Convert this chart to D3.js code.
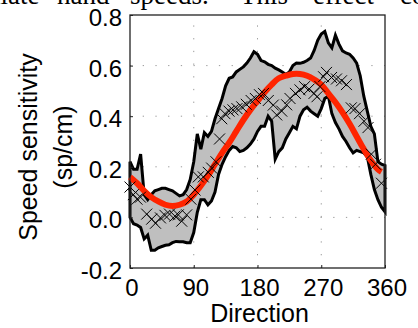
<!DOCTYPE html>
<html>
<head>
<meta charset="utf-8">
<script src="https://cdn.jsdelivr.net/npm/d3@7"></script>
<style>
	body { margin: 0; background: #fff; }
	svg { display: block; }
	text { font-family: "Liberation Sans", Arial, sans-serif; fill: #000; }
</style>
</head>
<body>
<svg width="418" height="328"></svg>
<script>
// band (upper / lower) sampled every 5 degrees
let band_deg = d3.range(0, 361, 5);
let band_upper = [0.22, 0.19, 0.19, 0.25, 0.09, 0.07, 0.09, 0.105, 0.11, 0.115, 0.115, 0.11, 0.105,
	0.095, 0.085, 0.09, 0.11, 0.15, 0.22, 0.33, 0.27, 0.335, 0.32, 0.34, 0.39, 0.43, 0.47, 0.52,
	0.55, 0.555, 0.575, 0.585, 0.595, 0.61, 0.63, 0.655, 0.645, 0.62, 0.615, 0.605, 0.6, 0.59,
	0.583, 0.575, 0.565, 0.575, 0.6, 0.61, 0.609, 0.613, 0.62, 0.63, 0.66, 0.7, 0.725, 0.735,
	0.69, 0.67, 0.72, 0.685, 0.658, 0.65, 0.645, 0.63, 0.61, 0.56, 0.48, 0.42, 0.36, 0.33, 0.22,
	0.21, 0.205];
let band_lower = [0.0, -0.025, -0.03, -0.04, -0.085, -0.07, -0.13, -0.13, -0.12, -0.115, -0.11,
	-0.108, -0.1, -0.095, -0.096, -0.096, -0.1, -0.1, -0.06, 0.02, 0.07, 0.07, 0.05, 0.065, 0.1,
	0.17, 0.21, 0.24, 0.265, 0.28, 0.275, 0.26, 0.265, 0.275, 0.29, 0.31, 0.34, 0.36, 0.36, 0.4,
	0.38, 0.23, 0.26, 0.275, 0.31, 0.335, 0.36, 0.35, 0.4, 0.425, 0.435, 0.42, 0.41, 0.4, 0.43,
	0.47, 0.48, 0.41, 0.375, 0.35, 0.32, 0.3, 0.275, 0.255, 0.265, 0.26, 0.255, 0.24, 0.17, 0.11,
	0.07, 0.04, 0.022];

// fitted curve
let fit_deg = [0, 10, 20, 30, 40, 50, 60, 70, 80, 90, 100, 110, 120, 130, 140, 150, 160, 170, 180,
	190, 200, 210, 220, 230, 240, 250, 260, 270, 280, 290, 300, 310, 320, 330, 340, 350, 355];
let fit_val = [0.16, 0.135, 0.105, 0.08, 0.063, 0.05, 0.045, 0.05, 0.063, 0.09, 0.125, 0.165, 0.21,
	0.255, 0.295, 0.34, 0.385, 0.425, 0.46, 0.495, 0.525, 0.55, 0.56, 0.567, 0.567, 0.56, 0.545,
	0.525, 0.49, 0.455, 0.415, 0.37, 0.32, 0.27, 0.225, 0.19, 0.18];

// measured points (crosses)
let pt_deg = [0, 4.7, 9.9, 14.8, 23.6, 30.6, 36, 43, 49.4, 55.8, 63.5, 68.2, 73, 80, 86, 91.8, 96.4,
	103.5, 110.5, 115.3, 121.4, 126.4, 129.5, 134, 139.8, 145.4, 151, 157.7, 164.2, 171, 177,
	182.8, 188.5, 195.2, 202.3, 207.1, 214.2, 221.2, 225.9, 233.6, 240, 246.4, 252.7, 259.8, 264,
	268.2, 273.2, 277.4, 284.5, 291.5, 298.6, 305.6, 312.4, 317.6, 324, 330.4, 336, 340.7, 346.6,
	355];
let pt_val = [0.12, 0.09, 0.072, 0.08, 0.013, -0.007, -0.023, -0.002, 0.008, 0.013, 0.005, 0.01,
	-0.015, 0.01, 0.072, 0.108, 0.16, 0.16, 0.178, 0.195, 0.22, 0.31, 0.39, 0.41, 0.42, 0.425, 0.43,
	0.437, 0.447, 0.462, 0.47, 0.485, 0.49, 0.462, 0.444, 0.405, 0.42, 0.445, 0.47, 0.49, 0.504,
	0.517, 0.507, 0.49, 0.477, 0.517, 0.556, 0.573, 0.553, 0.547, 0.54, 0.525, 0.433, 0.43, 0.41,
	0.38, 0.355, 0.25, 0.21, 0.135];

let x_ticks = [0, 90, 180, 270, 360];
let y_ticks = [-0.2, 0.0, 0.2, 0.4, 0.6, 0.8];

let svg = d3.select("svg");
let m_left = 130, m_right = 385, m_top = 15, m_bottom = 268;

let x = d3.scaleLinear().domain([0, 360]).range([m_left, m_right]);
let y = d3.scaleLinear().domain([-0.2, 0.8]).range([m_bottom, m_top]);

// scrap of the paper text above the figure (only its lower edge is on the page)
let words = [["ulate", -13], ["hand", 57], ["speeds.", 130], ["This", 240], ["effect", 313], ["could", 400]];
svg.append("g").selectAll("text")
	.data(words)
	.enter()
	.append("text")
	.attr("x", function(d) { return d[1]; })
	.attr("y", 3.5)
	.style("font-family", "'Liberation Serif', 'Times New Roman', serif")
	.style("font-size", "27px")
	.text(function(d) { return d[0]; });

// dotted grid
let grid = svg.append("g")
	.attr("stroke", "#9a9a9a")
	.attr("stroke-width", 1)
	.attr("stroke-dasharray", "1.3,11.4");
grid.selectAll(".gx")
	.data(x_ticks.slice(1, -1))
	.enter()
	.append("line")
	.attr("x1", function(d) { return x(d); })
	.attr("x2", function(d) { return x(d); })
	.attr("y1", m_bottom)
	.attr("y2", m_top);
grid.selectAll(".gy")
	.data(y_ticks.slice(1, -1))
	.enter()
	.append("line")
	.attr("y1", function(d) { return y(d); })
	.attr("y2", function(d) { return y(d); })
	.attr("x1", m_left)
	.attr("x2", m_right);

// shaded band
let band = band_deg.map(function(d, i) { return [d, band_upper[i], band_lower[i]]; });
let area = d3.area()
	.x(function(d) { return x(d[0]); })
	.y0(function(d) { return y(d[2]); })
	.y1(function(d) { return y(d[1]); });
svg.append("path")
	.attr("d", area(band))
	.attr("fill", "#bfbfbf")
	.attr("stroke", "#000")
	.attr("stroke-width", 3)
	.attr("stroke-linejoin", "miter");

// fitted curve
let line = d3.line()
	.x(function(d) { return x(d[0]); })
	.y(function(d) { return y(d[1]); })
	.curve(d3.curveCatmullRom);
svg.append("path")
	.attr("d", line(fit_deg.map(function(d, i) { return [d, fit_val[i]]; })))
	.attr("fill", "none")
	.attr("stroke", "#ff2400")
	.attr("stroke-width", 6);

// crosses
svg.append("g").selectAll("path")
	.data(pt_deg.map(function(d, i) { return [d, pt_val[i]]; }))
	.enter()
	.append("path")
	.attr("transform", function(d) { return "translate(" + x(d[0]) + "," + y(d[1]) + ")"; })
	.attr("d", "M-5.5,-5.5L5.5,5.5M-5.5,5.5L5.5,-5.5")
	.attr("stroke", "#000")
	.attr("stroke-width", 1);

// frame and inward ticks
svg.append("rect")
	.attr("x", m_left).attr("y", m_top)
	.attr("width", m_right - m_left).attr("height", m_bottom - m_top)
	.attr("fill", "none")
	.attr("stroke", "#222")
	.attr("stroke-width", 1.3);

let xa = svg.append("g")
	.attr("transform", "translate(0," + m_bottom + ")")
	.call(d3.axisBottom(x).tickValues(x_ticks).tickSize(-3).tickPadding(5));
let ya = svg.append("g")
	.attr("transform", "translate(" + m_left + ",0)")
	.call(d3.axisLeft(y).tickValues(y_ticks).tickSize(-3).tickPadding(8).tickFormat(d3.format(".1f")));
[xa, ya].forEach(function(a) {
	a.select(".domain").remove();
	a.selectAll(".tick line").attr("stroke", "#222");
	a.selectAll(".tick text")
		.style("font-family", "'Liberation Sans', Arial, sans-serif")
		.style("font-size", "24px")
		.attr("fill", "#000");
});
xa.selectAll(".tick text").attr("dy", "0.71em").attr("y", 11).attr("dx", 1.5);
ya.selectAll(".tick text").attr("dy", null).attr("y", 10.5).text(function(d) { return d3.format(".1f")(d).replace("−", "-"); });

// axis titles
svg.append("text")
	.attr("x", (m_left + m_right) / 2 + 2)
	.attr("y", 322)
	.attr("text-anchor", "middle")
	.style("font-size", "25px")
	.text("Direction");
svg.append("text")
	.attr("transform", "translate(37,147) rotate(-90)")
	.attr("text-anchor", "middle")
	.style("font-size", "25px")
	.text("Speed sensitivity");
svg.append("text")
	.attr("transform", "translate(72,147) rotate(-90)")
	.attr("text-anchor", "middle")
	.style("font-size", "25px")
	.text("(sp/cm)");
</script>
</body>
</html>
